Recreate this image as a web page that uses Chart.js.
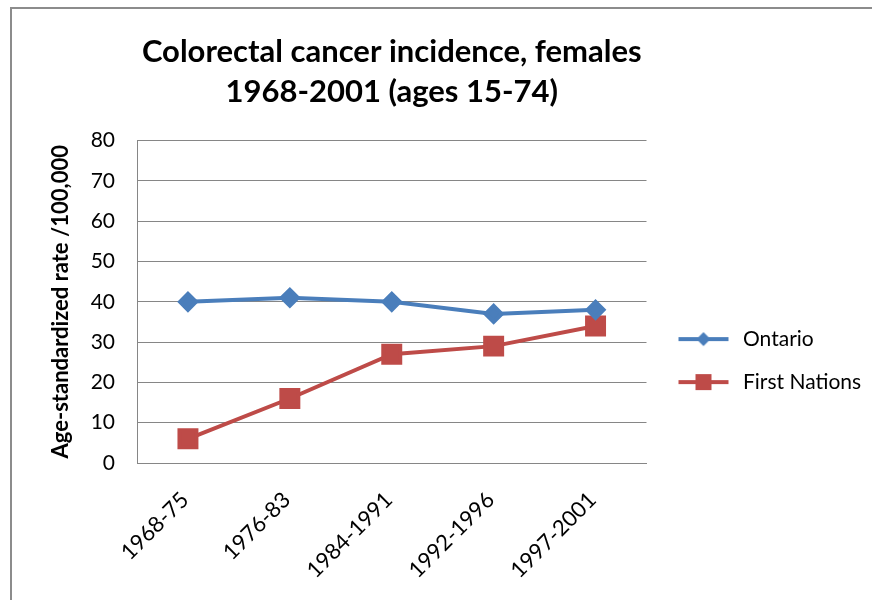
<!DOCTYPE html>
<html>
<head>
<meta charset="utf-8">
<script src="https://cdn.jsdelivr.net/npm/chart.js@4.4.0/dist/chart.umd.min.js"></script>
<style>
  html, body { margin: 0; padding: 0; background: #fff; }
  #wrap { position: relative; width: 872px; height: 600px; overflow: hidden; }
  #frame { position: absolute; left: 10px; top: 7px; width: 900px; height: 700px; border-left: 2px solid #8c8c8c; border-top: 2px solid #8c8c8c; box-sizing: border-box; }
  canvas { position: absolute; left: 0; top: 0; }
</style>
</head>
<body>
<div id="wrap">
  <div id="frame"></div>
  <canvas id="c" width="872" height="600"></canvas>
</div>
<script>
const categories = ["1968-75", "1976-83", "1984-1991", "1992-1996", "1997-2001"];
const ontario = [40, 41, 40, 37, 38];
const firstNations = [6, 16, 27, 29, 34];
const titleLines = ["Colorectal cancer incidence, females", "1968-2001 (ages 15-74)"];
const yAxisTitle = "Age-standardized rate /100,000";
const seriesNames = ["Ontario", "First Nations"];

const BLUE = "#4a7ebb";
const RED = "#be4b48";
const FONT = "Lato, 'Open Sans', sans-serif";

function legendIcon(color, style) {
  const cv = document.createElement("canvas");
  cv.width = 72; cv.height = 20;
  const g = cv.getContext("2d");
  g.strokeStyle = color; g.lineWidth = 4;
  g.beginPath(); g.moveTo(14, 10); g.lineTo(64, 10); g.stroke();
  g.fillStyle = color;
  if (style === "diamond") {
    g.beginPath(); g.moveTo(39, 3); g.lineTo(46, 10); g.lineTo(39, 17); g.lineTo(32, 10); g.closePath(); g.fill();
  } else {
    g.fillRect(31, 2, 16, 16);
  }
  return cv;
}
const icons = [legendIcon(BLUE, "diamond"), legendIcon(RED, "square")];

new Chart(document.getElementById("c"), {
  type: "line",
  data: {
    labels: categories,
    datasets: [
      { label: seriesNames[0], data: ontario, borderColor: BLUE, backgroundColor: BLUE,
        borderWidth: 4, pointStyle: "rectRot", pointRadius: 8, pointHoverRadius: 8, tension: 0 },
      { label: seriesNames[1], data: firstNations, borderColor: RED, backgroundColor: RED,
        borderWidth: 4, pointStyle: "rect", pointRadius: 12, pointHoverRadius: 12, tension: 0 }
    ]
  },
  options: {
    responsive: false,
    animation: false,
    layout: { padding: { left: 0, right: 10, top: 32, bottom: 0 } },
    plugins: {
      title: {
        display: true, fullSize: false, text: titleLines, color: "#000",
        font: { family: FONT, size: 31, weight: "bold", lineHeight: 1.3 },
        padding: { top: 0, bottom: 28 }
      },
      legend: {
        position: "right",
        title: { display: true, text: " ", font: { size: 1 }, padding: { top: 0, bottom: 88 } },
        labels: {
          usePointStyle: true, pointStyleWidth: 64, padding: 22,
          color: "#000", font: { family: FONT, size: 21 },
          generateLabels: (chart) => chart.data.datasets.map((ds, i) => ({
            text: ds.label, pointStyle: icons[i], fillStyle: ds.borderColor, fontColor: "#000",
            strokeStyle: ds.borderColor, lineWidth: 0, datasetIndex: i, hidden: false
          }))
        }
      },
      tooltip: { enabled: false }
    },
    scales: {
      x: {
        offset: true,
        grid: { display: false, drawTicks: false },
        border: { display: true, color: "#868686", width: 1 },
        ticks: { color: "#000", font: { family: FONT, size: 22 }, minRotation: 45, maxRotation: 45, padding: 24, labelOffset: -3 },
        afterFit: (s) => { s.height = 137; }
      },
      y: {
        min: 0, max: 80,
        ticks: { stepSize: 10, color: "#000", font: { family: FONT, size: 21 }, padding: 22 },
        grid: { color: "#868686", lineWidth: 1, drawTicks: false },
        border: { display: true, color: "#868686", width: 1 },
        title: { display: true, text: yAxisTitle, color: "#000",
                 font: { family: FONT, size: 22, weight: "bold" }, padding: { top: 48, bottom: 0 } },
        afterFit: (s) => { s.width = 137; }
      }
    }
  }
});
</script>
</body>
</html>
